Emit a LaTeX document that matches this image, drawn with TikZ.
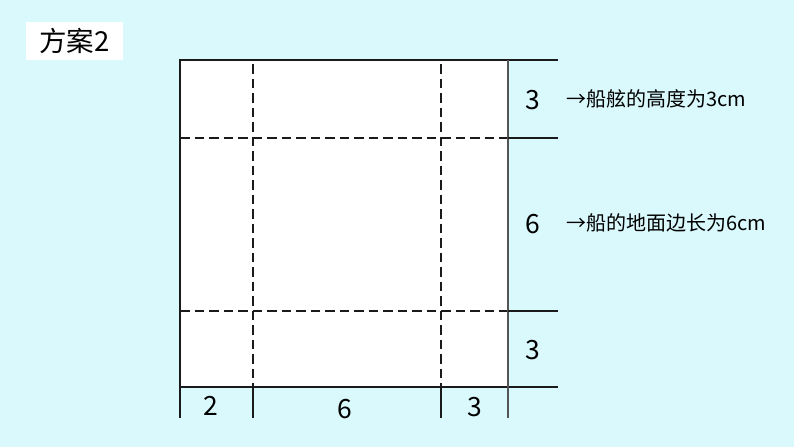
\documentclass[tikz,border=0pt]{standalone}
\usepackage{fontspec}
\setmainfont{Noto Sans CJK SC}
\newfontfamily\cjk{Noto Sans CJK SC}
\definecolor{bgc}{HTML}{D9F9FD}
\definecolor{linec}{HTML}{1A1A1A}
\definecolor{grayln}{HTML}{555555}
\begin{document}
\begin{tikzpicture}[x=1pt,y=-1pt,
  solidln/.style={draw=linec,line width=1.4pt},
  dashln/.style={draw=linec,line width=1.4pt,dash pattern=on 9.5pt off 5pt},
  numlbl/.style={font=\fontsize{26.5}{26.5}\selectfont,inner sep=0pt,anchor=base},
  note/.style={font=\cjk\fontsize{20}{20}\selectfont,inner sep=0pt,anchor=base west}]
\useasboundingbox (0,0) rectangle (794,447);
\fill[bgc] (0,0) rectangle (794,447);
% title
\node[fill=white,minimum width=97pt,minimum height=38pt,inner sep=0pt,font=\cjk\fontsize{27.5}{27.5}\selectfont] (title) at (74.5,41) {方案2};
% sheet
\fill[white] (180,60) rectangle (508,387);
\coordinate (tl) at (180,60);
\coordinate (tr) at (558,60);
\coordinate (bl) at (180,387);
\coordinate (br) at (558,387);
\coordinate (rt) at (508,60);
\coordinate (rb) at (508,418);
% dashed folds
\draw[dashln] (180,138) -- (508,138);
\draw[dashln] (180,311) -- (508,311);
\draw[dashln] (253,64) -- (253,387);
\draw[dashln] (441,64) -- (441,387);
% solid outline
\draw[solidln] (tr) -- (tl) -- (180,418);
\draw[solidln] (bl) -- (br);
\draw[solidln,draw=grayln] (rt) -- (rb);
\draw[solidln] (508,138) -- (558,138);
\draw[solidln] (508,311) -- (558,311);
\draw[solidln] (253,387) -- (253,418);
\draw[solidln] (441,387) -- (441,418);
% labels
\node[numlbl] (r1) at (533,109.5) {3};
\node[numlbl] (r2) at (533,233) {6};
\node[numlbl] (r3) at (533,359.5) {3};
\node[numlbl] (b1) at (211,415) {2};
\node[numlbl] (b2) at (344.5,418) {6};
\node[numlbl] (b3) at (475,416) {3};
\node[note] (n1) at (566,106) {→船舷的高度为3cm};
\node[note] (n2) at (566,230) {→船的地面边长为6cm};
\end{tikzpicture}
\end{document}
